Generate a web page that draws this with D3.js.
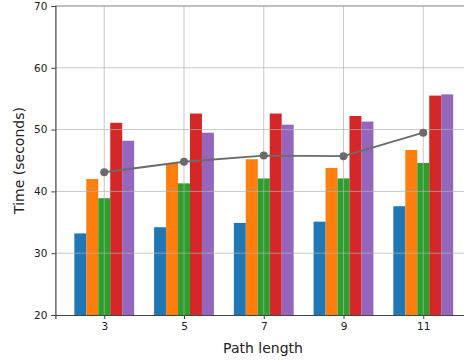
<!DOCTYPE html>
<html><head><meta charset="utf-8">
<script src="https://cdn.jsdelivr.net/npm/d3@7"></script>
<style>body{margin:0;background:#fff}svg{display:block}text{font-family:"DejaVu Sans",sans-serif}</style>
</head><body>
<script>
const categories = [3, 5, 7, 9, 11];
const seriesBlue   = [33.2, 34.2, 34.9, 35.1, 37.6];
const seriesOrange = [42.0, 44.6, 45.2, 43.8, 46.7];
const seriesGreen  = [38.9, 41.3, 42.1, 42.1, 44.6];
const seriesRed    = [51.1, 52.6, 52.6, 52.2, 55.5];
const seriesPurple = [48.2, 49.5, 50.8, 51.3, 55.7];
const lineValues   = [43.1, 44.8, 45.8, 45.7, 49.5];
const yTicks = [20, 30, 40, 50, 60, 70];

const series = [seriesBlue, seriesOrange, seriesGreen, seriesRed, seriesPurple];
const colors = ["#1f77b4", "#ff7f0e", "#2ca02c", "#d62728", "#9467bd"];
const barW = 0.3;

const W = 464, H = 360;
const svg = d3.select("body").append("svg").attr("width", W).attr("height", H);

const x = d3.scaleLinear().domain([1.775, 12.225]).range([55.4, 472.1]);
const y = d3.scaleLinear().domain([20, 70]).range([315, 6]);

// bars
series.forEach((vals, si) => {
  const off = (si - 2) * barW;
  svg.append("g").selectAll("rect").data(vals).join("rect")
    .attr("x", (d, i) => x(categories[i] + off - barW / 2))
    .attr("width", x(barW) - x(0))
    .attr("y", d => y(d))
    .attr("height", d => y(20) - y(d))
    .attr("fill", colors[si]);
});

// grid (drawn over bars)
const grid = svg.append("g").attr("stroke", "#b0b0b0").attr("stroke-opacity", 0.7).attr("stroke-width", 1);
grid.selectAll("line.h").data(yTicks.slice(1, -1)).join("line")
  .attr("x1", x.range()[0]).attr("x2", x.range()[1])
  .attr("y1", d => y(d)).attr("y2", d => y(d));
grid.selectAll("line.v").data(categories).join("line")
  .attr("x1", d => x(d)).attr("x2", d => x(d))
  .attr("y1", y(70)).attr("y2", y(20));

// line
svg.append("path").datum(lineValues)
  .attr("fill", "none").attr("stroke", "#6b6b6b").attr("stroke-width", 1.8)
  .attr("d", d3.line().x((d, i) => x(categories[i])).y(d => y(d)));
svg.append("g").selectAll("circle").data(lineValues).join("circle")
  .attr("cx", (d, i) => x(categories[i])).attr("cy", d => y(d))
  .attr("r", 4).attr("fill", "#6b6b6b");

// spines
svg.append("line").attr("x1", x.range()[0]).attr("x2", x.range()[1]).attr("y1", y(70)).attr("y2", y(70))
  .attr("stroke", "#aaa").attr("stroke-width", 1.5);

// axes
const xAxis = svg.append("g").attr("transform", `translate(0,${y(20)})`)
  .call(d3.axisBottom(x).tickValues(categories).tickSize(4).tickPadding(4).tickFormat(d3.format("d")));
const yAxis = svg.append("g").attr("transform", `translate(${x.range()[0]},0)`)
  .call(d3.axisLeft(y).tickValues(yTicks).tickSize(4).tickPadding(4));
[xAxis, yAxis].forEach(a => {
  a.select(".domain").attr("stroke", "#444").attr("stroke-width", 1.2);
  a.selectAll(".tick line").attr("stroke", "#444");
  a.selectAll(".tick text").attr("fill", "#222").style("font-size", "10.5px").style("font-family", "DejaVu Sans");
});

// labels
svg.append("text").attr("x", 263).attr("y", 353).attr("text-anchor", "middle")
  .style("font-size", "14px").attr("fill", "#222").text("Path length");
svg.append("text").attr("transform", `translate(24,${(y(20) + y(70)) / 2}) rotate(-90)`)
  .attr("text-anchor", "middle").style("font-size", "14px").attr("fill", "#222").text("Time (seconds)");
</script>
</body></html>
